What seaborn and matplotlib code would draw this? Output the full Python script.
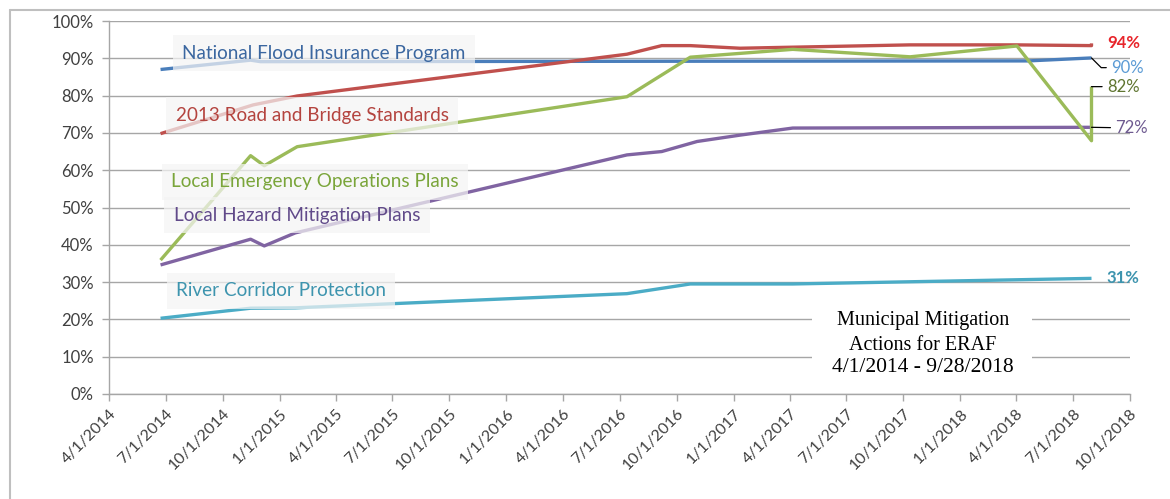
import matplotlib
matplotlib.use("Agg")
import matplotlib.pyplot as plt
import matplotlib.dates as mdates
from matplotlib.lines import Line2D
from matplotlib.patches import Rectangle
import pandas as pd
import seaborn as sns

# ---------------- data ----------------
nfip_dates = ["2014-06-23", "2014-11-15", "2014-12-01", "2018-04-20", "2018-07-31"]
nfip_vals = [87.0, 89.5, 89.1, 89.3, 90.1]

road_dates = ["2014-06-23", "2014-11-19", "2015-01-29", "2016-07-13", "2016-09-07",
              "2016-10-23", "2017-01-11", "2017-10-12", "2018-04-02", "2018-07-31", "2018-07-31"]
road_vals = [69.8, 77.5, 79.9, 91.1, 93.4, 93.4, 92.7, 93.6, 93.6, 93.4, 94.0]

leop_dates = ["2014-06-23", "2014-11-15", "2014-12-07", "2015-01-29", "2016-07-13",
              "2016-10-23", "2017-04-06", "2017-10-12", "2018-04-02", "2018-07-31", "2018-07-31"]
leop_vals = [35.9, 63.9, 61.2, 66.3, 79.7, 90.3, 92.4, 90.4, 93.3, 67.9, 82.4]

lhmp_dates = ["2014-06-23", "2014-11-15", "2014-12-07", "2015-01-26", "2016-07-13",
              "2016-09-07", "2016-11-03", "2017-01-11", "2017-04-06", "2018-07-31"]
lhmp_vals = [34.6, 41.5, 39.7, 43.2, 64.1, 65.0, 67.7, 69.4, 71.3, 71.5]

river_dates = ["2014-06-23", "2014-11-15", "2015-01-26", "2016-07-13", "2016-10-23",
               "2017-04-06", "2018-07-31"]
river_vals = [20.3, 23.0, 23.1, 26.9, 29.5, 29.5, 31.0]

series_names = ["National Flood Insurance Program", "2013 Road and Bridge Standards",
                "Local Emergency Operations Plans", "Local Hazard Mitigation Plans",
                "River Corridor Protection"]
end_labels = ["90%", "94%", "82%", "72%", "31%"]

tick_dates = pd.date_range("2014-04-01", "2018-10-01", freq="QS-JAN")
tick_labels = [f"{d.month}/{d.day}/{d.year}" for d in tick_dates]
y_ticks = list(range(0, 101, 10))
y_tick_labels = [f"{v}%" for v in y_ticks]

title_lines = ["Municipal Mitigation", "Actions for ERAF", "4/1/2014 - 9/28/2018"]

# ---------------- style ----------------
sns.set_theme(style="white")
plt.rcParams["font.family"] = ["Lato", "DejaVu Sans"]

line_colors = ["#4a7ebb", "#c0504d", "#9bbb59", "#8064a2", "#4bacc6"]
text_colors = ["#3b67a0", "#b4443f", "#7aa53a", "#614a8a", "#3d94ae"]
end_colors = ["#5b9bd5", "#e8252b", "#5f7530", "#6e5a90", "#3d94ae"]

fig = plt.figure(figsize=(11.7, 4.99), dpi=100)
ax = fig.add_axes([109 / 1170, 1 - 394 / 499, (1130 - 109) / 1170, (394 - 21) / 499])

all_dates = [nfip_dates, road_dates, leop_dates, lhmp_dates, river_dates]
all_vals = [nfip_vals, road_vals, leop_vals, lhmp_vals, river_vals]
order = [4, 3, 0, 1, 2]
for i in order:
    df = pd.DataFrame({"date": pd.to_datetime(all_dates[i]), "value": all_vals[i]})
    sns.lineplot(data=df, x="date", y="value", ax=ax, color=line_colors[i],
                 linewidth=2.4, estimator=None, sort=False, zorder=3,
                 solid_capstyle="butt")

ax.set_xlim(pd.Timestamp("2014-04-01"), pd.Timestamp("2018-10-01"))
ax.set_ylim(0, 100)
ax.set_xticks(tick_dates)
ax.set_xticklabels(tick_labels, rotation=45, ha="right", rotation_mode="anchor",
                   fontsize=11.5, color="#404040")
ax.set_yticks(y_ticks)
ax.set_yticklabels(y_tick_labels, fontsize=12, color="#404040")
ax.set_xlabel("")
ax.set_ylabel("")
ax.grid(axis="y", color="#a6a6a6", linewidth=1.0, zorder=0)
ax.grid(axis="x", visible=False)
for s in ["top", "right"]:
    ax.spines[s].set_visible(False)
for s in ["left", "bottom"]:
    ax.spines[s].set_color("#a6a6a6")
    ax.spines[s].set_linewidth(1.0)
ax.tick_params(axis="both", which="both", length=5, width=1, color="#a6a6a6",
               direction="out", left=True, bottom=True)
ax.tick_params(axis="y", pad=6)
ax.tick_params(axis="x", pad=4)

# series labels with translucent boxes (axes fraction coords from pixel positions)
def px(x, y):
    return ((x - 109) / (1130 - 109), (394 - y) / (394 - 21))

label_pos = [(324, 53), (312, 115), (315, 182), (297, 215), (281, 291)]
for i, name in enumerate(series_names):
    xa, ya = px(*label_pos[i])
    ax.text(xa, ya, name, transform=ax.transAxes, ha="center", va="center",
            fontsize=13.6, color=text_colors[i], zorder=5,
            bbox=dict(boxstyle="square,pad=0.5", facecolor="#f4f4f4",
                      edgecolor="none", alpha=0.72))

# end value labels
end_date = mdates.date2num(pd.Timestamp("2018-07-31"))
end_vals = [90.1, 94.0, 82.4, 71.5, 31.0]
offsets = [(14, -7), (11, 0), (11, 0), (17, -0.5), (11, 0)]
for i in range(5):
    kw = {}
    if i in (0, 2, 3):
        if i == 0:
            cs = "angle,angleA=0,angleB=-45,rad=0"
        else:
            cs = "arc3"
        kw["arrowprops"] = dict(arrowstyle="-", color="black", lw=0.9,
                                shrinkA=1, shrinkB=0, connectionstyle=cs)
    ax.annotate(end_labels[i], xy=(end_date, end_vals[i]), xytext=offsets[i],
                textcoords="offset points", ha="left", va="center",
                fontsize=12, color=end_colors[i],
                fontweight="bold" if i in (1, 4) else "normal",
                annotation_clip=False, zorder=6, **kw)

# title box
x0, y0 = px(812, 380)
x1, y1 = px(1032, 306)
ax.add_patch(Rectangle((x0, y0), x1 - x0, y1 - y0, transform=ax.transAxes,
                       facecolor="white", edgecolor="none", zorder=2))
cx = px(923, 0)[0]
for j, (t, yy) in enumerate(zip(title_lines, [320, 346, 368])):
    ax.text(cx, px(0, yy)[1], t, transform=ax.transAxes, ha="center", va="center",
            fontsize=14.5 if j < 2 else 15.5, color="black",
            family=["Liberation Serif", "DejaVu Serif"], zorder=4,
            fontweight="normal")

# outer chart frame
fig.add_artist(Line2D([10 / 1170, 1], [1 - 10 / 499, 1 - 10 / 499], color="#bfbfbf", lw=1.5))
fig.add_artist(Line2D([10 / 1170, 10 / 1170], [0, 1 - 10 / 499], color="#bfbfbf", lw=1.5))

fig.savefig("out.png", dpi=100)
